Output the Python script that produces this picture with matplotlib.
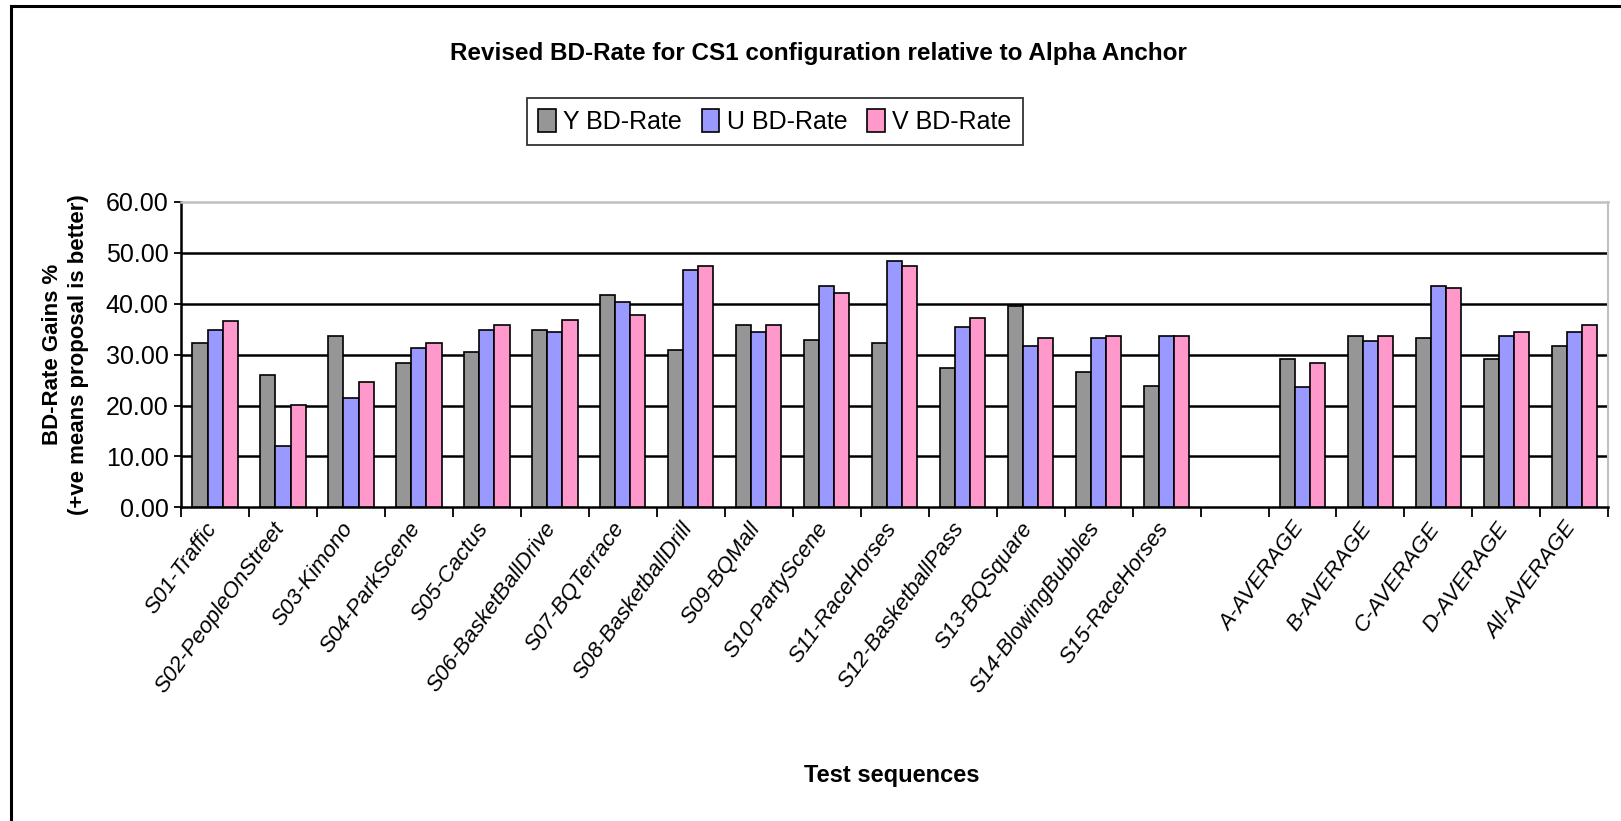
import numpy as np
import matplotlib.pyplot as plt
from matplotlib.lines import Line2D
from matplotlib.transforms import ScaledTranslation

categories = ["S01-Traffic", "S02-PeopleOnStreet", "S03-Kimono", "S04-ParkScene",
              "S05-Cactus", "S06-BasketBallDrive", "S07-BQTerrace", "S08-BasketballDrill",
              "S09-BQMall", "S10-PartyScene", "S11-RaceHorses", "S12-BasketballPass",
              "S13-BQSquare", "S14-BlowingBubbles", "S15-RaceHorses", "",
              "A-AVERAGE", "B-AVERAGE", "C-AVERAGE", "D-AVERAGE", "All-AVERAGE"]

y_rate = [32.3, 26.0, 33.7, 28.3, 30.5, 34.9, 41.7, 30.9, 35.8, 32.8, 32.3, 27.3,
          39.5, 26.5, 23.8, np.nan, 29.2, 33.7, 33.2, 29.2, 31.8]
u_rate = [34.9, 12.1, 21.5, 31.3, 34.9, 34.5, 40.3, 46.7, 34.5, 43.5, 48.5, 35.5,
          31.8, 33.2, 33.7, np.nan, 23.6, 32.7, 43.5, 33.7, 34.5]
v_rate = [36.7, 20.2, 24.7, 32.3, 35.8, 36.8, 37.7, 47.5, 35.8, 42.2, 47.5, 37.2,
          33.2, 33.7, 33.7, np.nan, 28.3, 33.7, 43.1, 34.5, 35.8]

series = [("Y BD-Rate", y_rate, "#969696"),
          ("U BD-Rate", u_rate, "#9999FF"),
          ("V BD-Rate", v_rate, "#FF99CC")]

plt.rcParams["font.family"] = ["Liberation Sans", "DejaVu Sans"]

fig = plt.figure(figsize=(16.21, 8.21), dpi=100)
ax = fig.add_axes([0.1117, 0.382, 0.8805, 0.372])

x = np.arange(len(categories))
w = 0.222
for i, (name, vals, col) in enumerate(series):
    ax.bar(x + (i - 1) * w, vals, w, color=col, edgecolor="black", linewidth=1.2,
           label=name, zorder=3)

ax.set_xlim(-0.5, len(categories) - 0.5)
ax.set_ylim(0, 60)
ax.set_yticks(np.arange(0, 61, 10))
ax.set_yticklabels([f"{v:.2f}" for v in np.arange(0, 61, 10)], fontsize=18)
for v in range(10, 51, 10):
    ax.axhline(v, color="black", linewidth=1.8, zorder=1)

ax.set_xticks(x)
ax.set_xticklabels(categories, rotation=54, ha="right", rotation_mode="anchor",
                   fontsize=16, style="italic")
ax.tick_params(axis="x", length=0, pad=8)
shift = ScaledTranslation(-0.11, 0.0, fig.dpi_scale_trans)
for lab in ax.get_xticklabels():
    lab.set_transform(lab.get_transform() + shift)
ax.set_xticks(np.arange(-0.5, len(categories), 1), minor=True)
ax.tick_params(axis="x", which="minor", length=7, width=1.3, direction="out")
ax.tick_params(axis="y", length=5, width=1.3, direction="out", pad=4)

ax.spines["left"].set_linewidth(1.8)
ax.spines["bottom"].set_linewidth(1.8)
ax.spines["top"].set_color("#c0c0c0")
ax.spines["top"].set_linewidth(1.8)
ax.spines["right"].set_color("#c0c0c0")
ax.spines["right"].set_linewidth(1.5)

ax.set_ylabel("BD-Rate Gains %\n(+ve means proposal is better)", fontsize=16,
              fontweight="bold", labelpad=12, linespacing=1.3)
fig.text(0.55, 0.055, "Test sequences", ha="center", va="center", fontsize=17,
         fontweight="bold")
fig.text(0.505, 0.935, "Revised BD-Rate for CS1 configuration relative to Alpha Anchor",
         ha="center", va="center", fontsize=17.5, fontweight="bold")

leg = fig.legend(loc="center", bbox_to_anchor=(0.478, 0.852), ncol=3, fontsize=18,
                 frameon=True, fancybox=False, edgecolor="black", handlelength=0.7,
                 handleheight=1.0, handletextpad=0.3, columnspacing=0.8,
                 borderpad=0.45)
leg.get_frame().set_linewidth(1.3)

fig.lines.append(Line2D([0.0065, 0.0065], [0.0, 0.993], transform=fig.transFigure,
                        color="black", linewidth=2.2))
fig.lines.append(Line2D([0.0065, 1.0], [0.993, 0.993], transform=fig.transFigure,
                        color="black", linewidth=2.2))

fig.savefig("out.png", dpi=100)
